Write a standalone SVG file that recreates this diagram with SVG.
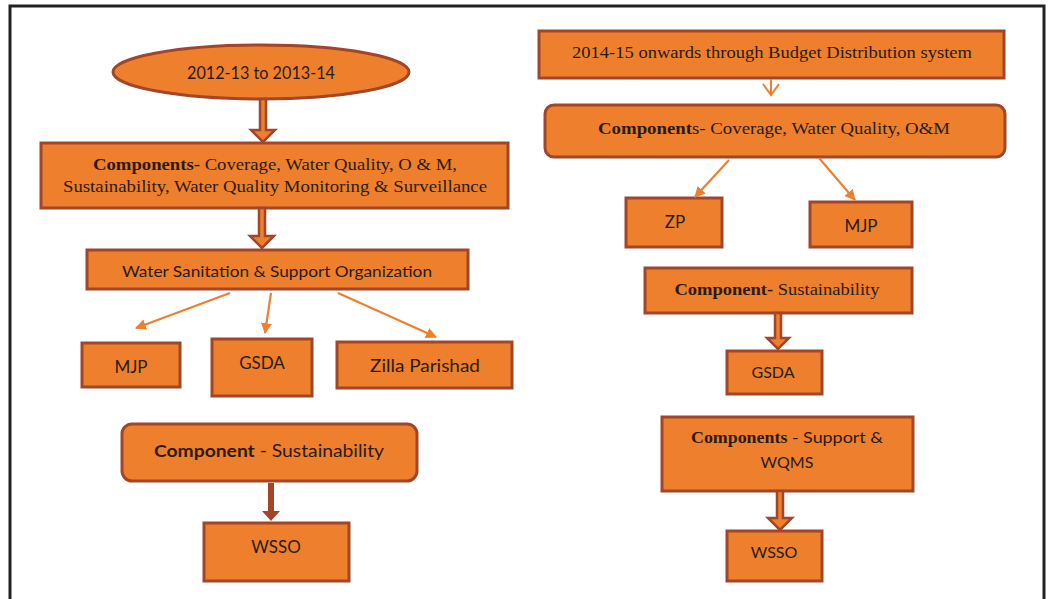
<svg xmlns="http://www.w3.org/2000/svg" width="1050" height="599" viewBox="0 0 1050 599">
<style>
.box{fill:#EE7F2D;stroke:#A2462A;stroke-width:3}
.harrow{fill:#EE7F2D;stroke:#A2462A;stroke-width:2.5;stroke-linejoin:miter}
.sarrow{fill:#A2462A;stroke:none}
.thin{stroke:#EC8030;stroke-width:2.2;fill:none}
.s{font-family:Lato,"Open Sans","Liberation Sans",sans-serif;fill:#2a1c14;text-anchor:middle}
.r{font-family:"Liberation Serif","Times New Roman",serif;fill:#2a1c14;text-anchor:middle}
.b{font-weight:bold}
</style>
<defs>
<marker id="ah" viewBox="0 0 10 10" refX="9" refY="5" markerWidth="5" markerHeight="5" orient="auto" markerUnits="strokeWidth">
<path d="M0,0 L10,5 L0,10 Z" fill="#EC8030"/>
</marker>
</defs>
<rect width="1050" height="599" fill="#ffffff"/>
<path d="M10,599 L10,6 L1044,6 L1044,599" fill="none" stroke="#222" stroke-width="3"/>

<g id="n-l-period">
<ellipse cx="261" cy="72" rx="148" ry="27" class="box"/>
<text x="261" y="79" class="s" font-size="17" textLength="148" lengthAdjust="spacingAndGlyphs">2012-13 to 2013-14</text>
</g>
<g id="n-l-components">
<rect x="41" y="143" width="467" height="65" class="box"/>
<text x="275" y="170" class="r" font-size="17" textLength="364" lengthAdjust="spacingAndGlyphs"><tspan class="b">Components-</tspan> Coverage, Water Quality, O &amp; M,</text>
<text x="275" y="192" class="r" font-size="17" textLength="424" lengthAdjust="spacingAndGlyphs">Sustainability, Water Quality Monitoring &amp; Surveillance</text>
</g>
<g id="n-l-wsso-org">
<rect x="87" y="250" width="381" height="39" class="box"/>
<text x="277" y="277" class="s" font-size="16" textLength="310" lengthAdjust="spacingAndGlyphs">Water Sanitation &amp; Support Organization</text>
</g>
<g id="n-l-mjp">
<rect x="82" y="343" width="98" height="44" class="box"/>
<text x="131" y="373" class="s" font-size="17">MJP</text>
</g>
<g id="n-l-gsda">
<rect x="212" y="339" width="100" height="57" class="box"/>
<text x="262" y="369" class="s" font-size="17">GSDA</text>
</g>
<g id="n-l-zp">
<rect x="337" y="342" width="175" height="46" class="box"/>
<text x="425" y="372" class="s" font-size="17" textLength="110" lengthAdjust="spacingAndGlyphs">Zilla Parishad</text>
</g>
<g id="n-l-sustain">
<rect x="122" y="424" width="295" height="57" rx="10" class="box"/>
<text x="269" y="457" class="s" font-size="17" textLength="230" lengthAdjust="spacingAndGlyphs"><tspan class="b">Component</tspan> - Sustainability</text>
</g>
<g id="n-l-wsso">
<rect x="204" y="523" width="145" height="58" class="box"/>
<text x="276" y="553" class="s" font-size="17">WSSO</text>
</g>

<g id="n-r-period">
<rect x="539" y="31" width="465" height="47" class="box"/>
<text x="772" y="58" class="r" font-size="17" textLength="400" lengthAdjust="spacingAndGlyphs">2014-15 onwards through Budget Distribution system</text>
</g>
<g id="n-r-components">
<rect x="545" y="105" width="460" height="52" rx="9" class="box"/>
<text x="774" y="134" class="r" font-size="17" textLength="352" lengthAdjust="spacingAndGlyphs"><tspan class="b">Component</tspan>s- Coverage, Water Quality, O&amp;M</text>
</g>
<g id="n-r-zp">
<rect x="626" y="198" width="96" height="49" class="box"/>
<text x="675" y="228" class="s" font-size="17">ZP</text>
</g>
<g id="n-r-mjp">
<rect x="810" y="202" width="102" height="45" class="box"/>
<text x="861" y="232" class="s" font-size="17">MJP</text>
</g>
<g id="n-r-sustain">
<rect x="645" y="268" width="267" height="45" class="box"/>
<text x="777" y="295" class="r" font-size="17" textLength="205" lengthAdjust="spacingAndGlyphs"><tspan class="b">Component-</tspan> Sustainability</text>
</g>
<g id="n-r-gsda">
<rect x="727" y="351" width="95" height="43" class="box"/>
<text x="773" y="378" class="s" font-size="16">GSDA</text>
</g>
<g id="n-r-support">
<rect x="662" y="417" width="251" height="74" class="box"/>
<text x="787" y="443" class="s" font-size="16" textLength="192" lengthAdjust="spacingAndGlyphs"><tspan class="r b">Components</tspan> - Support &amp;</text>
<text x="787" y="468" class="s" font-size="16">WQMS</text>
</g>
<g id="n-r-wsso">
<rect x="727" y="531" width="95" height="50" class="box"/>
<text x="774" y="558" class="s" font-size="16">WSSO</text>
</g>

<g id="connectors">
<path class="harrow" d="M260,99 L266,99 L266,130 L275,130 L263,142 L251,130 L260,130 Z"/>
<path class="harrow" d="M259,208 L265,208 L265,236 L274,236 L262,248 L250,236 L259,236 Z"/>
<line class="thin" x1="230" y1="293" x2="136" y2="328" marker-end="url(#ah)"/>
<line class="thin" x1="271" y1="293" x2="265" y2="333" marker-end="url(#ah)"/>
<line class="thin" x1="338" y1="293" x2="436" y2="337" marker-end="url(#ah)"/>
<path class="sarrow" d="M268,483 L274,483 L274,511 L280,511 L271,521 L262,511 L268,511 Z"/>
<path d="M771,79 L771,95 M763,84 L771,95 L779,84" fill="none" stroke="#EC8030" stroke-width="2"/>
<line class="thin" x1="729" y1="160" x2="695" y2="197" marker-end="url(#ah)"/>
<line class="thin" x1="819" y1="158" x2="855" y2="200" marker-end="url(#ah)"/>
<path class="harrow" d="M775,313 L781,313 L781,338 L789,338 L778,349 L767,338 L775,338 Z"/>
<path class="harrow" d="M777,491 L783,491 L783,518 L792,518 L780,530 L768,518 L777,518 Z"/>
</g>
</svg>
